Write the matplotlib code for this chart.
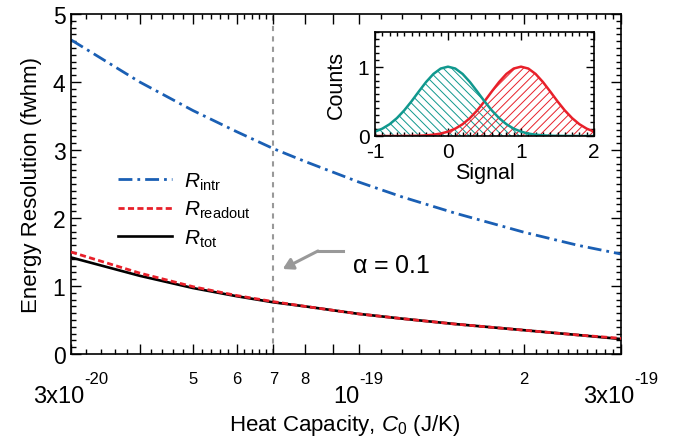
import numpy as np
import matplotlib
matplotlib.use("Agg")
import matplotlib.pyplot as plt
from matplotlib.ticker import FixedLocator, NullFormatter

plt.rcParams['font.family'] = ['Liberation Sans', 'DejaVu Sans']
plt.rcParams['mathtext.fontset'] = 'custom'
plt.rcParams['mathtext.rm'] = 'Liberation Sans'
plt.rcParams['mathtext.it'] = 'Liberation Sans:italic'
plt.rcParams['mathtext.default'] = 'regular'
plt.rcParams['axes.unicode_minus'] = False
plt.rcParams['hatch.linewidth'] = 0.7

# main curves (heat capacity in J/K)
C0 = np.array([3, 4, 5, 6, 7, 8, 10, 12, 15, 20, 25, 30]) * 1e-20
R_intr = [4.62, 4.00, 3.58, 3.27, 3.02, 2.83, 2.53, 2.31, 2.07, 1.79, 1.60, 1.47]
R_readout = [1.50, 1.19, 0.99, 0.86, 0.77, 0.70, 0.59, 0.52, 0.44, 0.35, 0.28, 0.23]
R_tot = [1.42, 1.15, 0.97, 0.85, 0.76, 0.70, 0.59, 0.52, 0.44, 0.35, 0.28, 0.22]
C_alpha = 7e-20

# x tick labels: (position, base, exponent)
big_labels = [(3e-20, '3x10', '-20'), (1e-19, '10', '-19'), (3e-19, '3x10', '-19')]
small_labels = [(5e-20, '5'), (6e-20, '6'), (7e-20, '7'), (8e-20, '8'), (2e-19, '2')]

# inset: two signal distributions
signal = np.round(np.arange(-1.0, 2.01, 0.1), 2)
counts_0 = [0.063, 0.106, 0.170, 0.258, 0.369, 0.500, 0.642, 0.779, 0.895, 0.973, 1.0,
            0.973, 0.895, 0.779, 0.642, 0.500, 0.369, 0.258, 0.170, 0.106, 0.063,
            0.035, 0.019, 0.009, 0.004, 0.002, 0.001, 0.0, 0.0, 0.0, 0.0]
counts_1 = [0.0, 0.0, 0.0, 0.0, 0.001, 0.002, 0.004, 0.009, 0.019, 0.035, 0.063,
            0.106, 0.170, 0.258, 0.369, 0.500, 0.642, 0.779, 0.895, 0.973, 1.0,
            0.973, 0.895, 0.779, 0.642, 0.500, 0.369, 0.258, 0.170, 0.106, 0.063]

blue = '#1a5fb4'
red = '#e8202a'
teal = '#10988e'
W, H = 678, 439

fig = plt.figure(figsize=(W/100, H/100), dpi=100)
ax = fig.add_axes([71/W, 1-355/H, 550/W, 340/H])

ax.plot(C0, R_intr, color=blue, lw=2, dashes=(5, 1.8, 1, 1.8), label=r'$\mathit{R}_{intr}$')
ax.plot(C0, R_readout, color=red, lw=2, dashes=(2.2, 1.2), label=r'$\mathit{R}_{readout}$', zorder=3)
ax.plot(C0, R_tot, color='black', lw=1.9, label=r'$\mathit{R}_{tot}$', zorder=2)
ax.axvline(C_alpha, color='#999999', lw=1.5, dashes=(2.5, 2.5), zorder=1)

ax.set_xscale('log')
ax.set_xlim(3e-20, 3e-19)
ax.set_ylim(0, 5)

# x ticks
xmaj = [3e-20, 4e-20, 5e-20, 6e-20, 7e-20, 8e-20, 9e-20, 1e-19, 2e-19, 3e-19]
xmin = list(np.arange(3.2, 7.0, 0.2) * 1e-20) + list(np.arange(1.1, 3.0, 0.1) * 1e-19)
ax.xaxis.set_major_locator(FixedLocator(xmaj))
ax.xaxis.set_minor_locator(FixedLocator(xmin))
ax.xaxis.set_major_formatter(NullFormatter())
ax.xaxis.set_minor_formatter(NullFormatter())

ax.set_yticks([0, 1, 2, 3, 4, 5])
ax.yaxis.set_minor_locator(FixedLocator(np.arange(0, 5.01, 0.1)))
ax.tick_params(which='both', direction='in', top=True, right=True, width=1)
ax.tick_params(which='major', length=7, labelsize=16.5, pad=4)
ax.tick_params(which='minor', length=3.5)
for s in ax.spines.values():
    s.set_linewidth(1.2)

fig.text(345/W, 1-426/H, r'Heat Capacity, $\mathit{C}_0$ (J/K)', ha='center', va='center', fontsize=16)
ax.set_ylabel('Energy Resolution (fwhm)', fontsize=16, labelpad=8)

leg = ax.legend(loc='upper left', bbox_to_anchor=(0.07, 0.565), frameon=False, fontsize=15,
                handlelength=2.6, labelspacing=0.35, handletextpad=0.6, borderaxespad=0)

# alpha annotation
ax.annotate('', xy=(0.385, 0.25), xytext=(0.449, 0.303), xycoords='axes fraction',
            arrowprops=dict(arrowstyle='-|>,head_length=0.6,head_width=0.35', color='#999999', lw=2.2,
                            shrinkA=0, shrinkB=0))
ax.plot([0.449, 0.495], [0.303, 0.303], color='#999999', lw=2.2, transform=ax.transAxes)
ax.text(0.51, 0.262, r'$\alpha$ = 0.1', transform=ax.transAxes, fontsize=18, va='center')

# inset
ins = fig.add_axes([375/W, 1-137/H, 219/W, 104/H])
ins.fill_between(signal, counts_0, 0, facecolor='none', edgecolor=teal, hatch='\\\\\\\\', lw=0)
ins.fill_between(signal, counts_1, 0, facecolor='none', edgecolor=red, hatch='////', lw=0)
ins.plot(signal, counts_1, color=red, lw=1.8)
ins.plot(signal, counts_0, color=teal, lw=1.8)
ins.set_xlim(-1, 2)
ins.set_ylim(0, 1.5)
ins.set_xticks([-1, 0, 1, 2])
ins.set_yticks([0, 1])
ins.xaxis.set_minor_locator(FixedLocator(np.arange(-1, 2.01, 0.1)))
ins.yaxis.set_minor_locator(FixedLocator(np.arange(0, 1.51, 0.1)))
ins.tick_params(which='both', direction='in', top=True, right=True, width=1)
ins.tick_params(which='major', length=6, labelsize=15)
ins.tick_params(axis='x', which='major', pad=4)
ins.tick_params(axis='y', which='major', pad=4)
ins.tick_params(which='minor', length=3)
for s in ins.spines.values():
    s.set_linewidth(1.2)
ins.set_xlabel('Signal', fontsize=15.5, labelpad=1)
ins.set_ylabel('Counts', fontsize=15.5, labelpad=8)

# x tick labels with raised exponents, centred on their tick
fig.canvas.draw()
rend = fig.canvas.get_renderer()
base_y = 1 - 403/H
exp_y = 1 - 384/H
for x, base, ex in big_labels:
    px = ax.transData.transform((x, 1))[0]
    tb = fig.text(0, base_y, base, fontsize=17, va='baseline', ha='left')
    te = fig.text(0, exp_y, ex, fontsize=12, va='baseline', ha='left')
    wb = tb.get_window_extent(rend).width
    we = te.get_window_extent(rend).width
    left = px - (wb + we) / 2
    tb.set_x(left / W)
    te.set_x((left + wb) / W)
for x, t in small_labels:
    px = ax.transData.transform((x, 1))[0]
    fig.text(px / W, exp_y, t, fontsize=12, va='baseline', ha='center')

fig.savefig('out.png', dpi=100)
